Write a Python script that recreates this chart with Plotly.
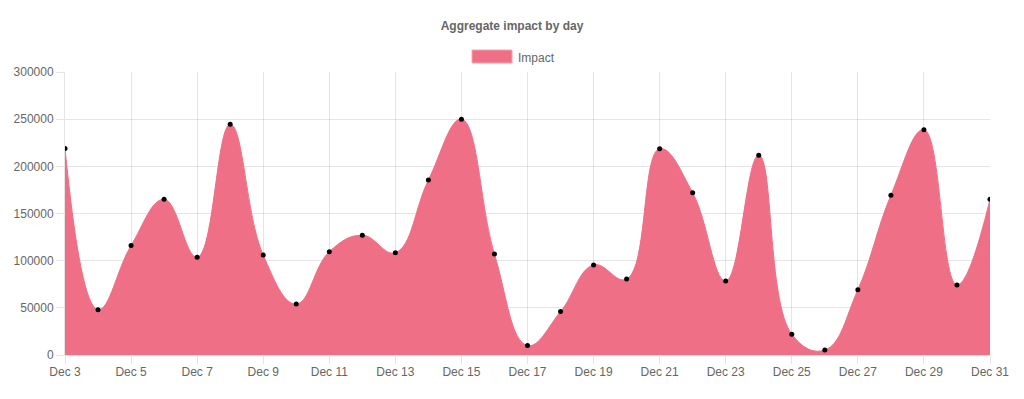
import plotly.graph_objects as go

days = [f"Dec {d}" for d in range(3, 32)]
impact = [219000, 48000, 116000, 165000, 103500, 244500, 106000, 54000,
          109500, 127000, 108500, 185500, 250000, 107000, 10000, 46000,
          95500, 80500, 218700, 172000, 78500, 211700, 22000, 5300,
          69300, 169300, 238900, 74200, 165000]
y_ticks = [0, 50000, 100000, 150000, 200000, 250000, 300000]
x_ticks = days[::2]
series_name = "Impact"

fill_color = "rgb(239,111,134)"
grid = "rgba(0,0,0,0.1)"
font_color = "#666666"

# page body has an 8px default margin; offset the layout to compensate
OFF = 8
W, H = 1024, 399
L, R, T, B = 65 - OFF, W - (990 - OFF), 72 - OFF, H - (355 - OFF)
plot_w = W - L - R
plot_h = H - T - B

fig = go.Figure()
fig.add_trace(go.Scatter(
    x=days, y=impact, name=series_name, mode="lines",
    line=dict(color=fill_color, width=1, shape="spline", smoothing=1.2),
    fill="tozeroy", fillcolor=fill_color, showlegend=False,
))
fig.add_trace(go.Scatter(
    x=days, y=impact, mode="markers", showlegend=False,
    marker=dict(color="black", size=5), hoverinfo="skip",
))

# legend swatch + label (Chart.js style box)
def px_x(p):
    return (p - 65) / plot_w

def px_y(p):
    return 1 + (72 - p) / plot_h

fig.add_shape(type="rect", xref="paper", yref="paper",
              x0=px_x(472), x1=px_x(512), y0=px_y(63), y1=px_y(50),
              fillcolor=fill_color, line=dict(color="rgba(255,160,175,1)", width=1))
fig.add_annotation(text=series_name, xref="paper", yref="paper",
                   x=px_x(516), y=px_y(58), xanchor="left", yanchor="middle",
                   showarrow=False, font=dict(size=12, color=font_color))

fig.update_layout(
    width=W, height=H,
    margin=dict(l=L, r=R, t=T, b=B),
    paper_bgcolor="white", plot_bgcolor="white",
    font=dict(family="Liberation Sans, Arial, sans-serif", size=12, color=font_color),
    title=dict(text="<b>Aggregate impact by day</b>", x=(512 - OFF) / W, xanchor="center",
               xref="container", yref="container", y=1 - (26 - OFF) / H, yanchor="middle",
               font=dict(size=12, color=font_color)),
    showlegend=False,
)
fig.update_xaxes(
    type="category", range=[0, len(days) - 1],
    tickvals=x_ticks, ticktext=x_ticks, automargin=False,
    showgrid=True, gridcolor=grid, gridwidth=1,
    ticks="outside", ticklen=8, tickcolor=grid, ticklabelstandoff=-2,
    showline=True, linecolor=grid, zeroline=False, mirror=False,
)
fig.update_yaxes(
    range=[0, 300000], tickvals=y_ticks, tickformat="d", automargin=False,
    showgrid=True, gridcolor=grid, gridwidth=1,
    ticks="outside", ticklen=8, tickcolor=grid,
    showline=True, linecolor=grid, zeroline=False,
)

fig.write_html("out.html")
